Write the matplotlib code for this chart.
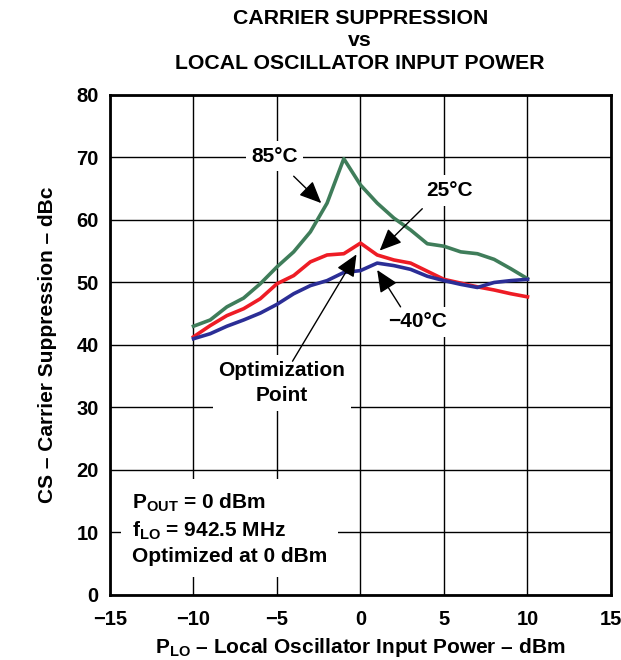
import numpy as np
import matplotlib
matplotlib.use('Agg')
import matplotlib.pyplot as plt

plt.rcParams['font.family'] = ['Liberation Sans', 'DejaVu Sans']
plt.rcParams['font.weight'] = 'bold'
plt.rcParams['mathtext.fontset'] = 'custom'
plt.rcParams['mathtext.rm'] = 'Liberation Sans:bold'
plt.rcParams['mathtext.bf'] = 'Liberation Sans:bold'
plt.rcParams['axes.unicode_minus'] = True

# LO input power (dBm)
p_lo = [-10, -9, -8, -7, -6, -5, -4, -3, -2, -1, 0, 1, 2, 3, 4, 5, 6, 7, 8, 9, 10]

# carrier suppression (dBc) for each temperature
cs_85 = [43.0, 44.0, 46.1, 47.5, 49.8, 52.5, 54.9, 58.1, 62.7, 69.8, 65.6,
         62.7, 60.3, 58.4, 56.2, 55.8, 54.9, 54.6, 53.7, 52.2, 50.6]
cs_25 = [41.3, 43.1, 44.7, 45.8, 47.4, 49.8, 51.1, 53.3, 54.4, 54.6, 56.3,
         54.4, 53.6, 53.1, 51.8, 50.5, 49.9, 49.3, 48.8, 48.2, 47.7]
cs_m40 = [41.0, 41.8, 43.0, 44.0, 45.1, 46.5, 48.2, 49.5, 50.3, 51.6, 51.9,
          53.1, 52.7, 52.1, 51.0, 50.3, 49.7, 49.2, 50.0, 50.3, 50.5]

x_ticks = [-15, -10, -5, 0, 5, 10, 15]
y_ticks = [0, 10, 20, 30, 40, 50, 60, 70, 80]

fig = plt.figure(figsize=(6.21, 6.6), dpi=100)
ax = fig.add_axes([0.1771, 0.0985, 0.8068, 0.7576])

ax.plot(p_lo, cs_85, color='#3f7d5a', lw=2.6, zorder=3)
ax.plot(p_lo, cs_25, color='#ee1c25', lw=2.6, zorder=3)
ax.plot(p_lo, cs_m40, color='#2b2e96', lw=2.6, zorder=3)

ax.set_xlim(-15, 15)
ax.set_ylim(0, 80)
ax.set_xticks(x_ticks)
ax.set_yticks(y_ticks)
ax.grid(True, color='black', lw=1.0, zorder=0)
ax.tick_params(length=0, labelsize=14.5, pad=8)
ax.tick_params(axis='x', pad=11)
for lab in ax.get_xticklabels() + ax.get_yticklabels():
    lab.set_fontweight('bold')
for sp in ax.spines.values():
    sp.set_linewidth(2)

ax.set_xlabel(r'P$_{\mathrm{LO}}$ – Local Oscillator Input Power – dBm',
              fontsize=15, fontweight='bold', labelpad=5)
ax.set_ylabel('CS – Carrier Suppression – dBc', fontsize=15,
              fontweight='bold', labelpad=14)

fig.text(0.58, 0.987, 'CARRIER SUPPRESSION\nvs\nLOCAL OSCILLATOR INPUT POWER',
         ha='center', va='top', fontsize=15.3, fontweight='bold', linespacing=1.25)

box = dict(facecolor='white', edgecolor='none', pad=4)
arrow = dict(arrowstyle='-|>,head_length=1.35,head_width=0.6', color='black',
             lw=1.0, shrinkA=0, shrinkB=0)

ax.text(-5.15, 70.2, '85°C', ha='center', va='center', fontsize=15,
        fontweight='bold', bbox=box, zorder=4)
ax.annotate('', xy=(-2.35, 62.7), xytext=(-4.0, 67.0), arrowprops=arrow, zorder=5)

ax.text(5.35, 64.7, '25°C', ha='center', va='center', fontsize=15,
        fontweight='bold', bbox=box, zorder=4)
ax.annotate('', xy=(1.15, 55.1), xytext=(3.7, 61.8), arrowprops=arrow, zorder=5)

ax.text(3.4, 43.7, '\u221240°C', ha='center', va='center', fontsize=15,
        fontweight='bold', bbox=box, zorder=4)
ax.annotate('', xy=(1.0, 52.0), xytext=(2.4, 46.1), arrowprops=arrow, zorder=5)

ax.text(-4.7, 33.9, 'Optimization\nPoint', ha='center', va='center', fontsize=15,
        fontweight='bold', bbox=box, zorder=4, linespacing=1.4)
ax.annotate('', xy=(-0.24, 54.5), xytext=(-4.07, 37.4), arrowprops=arrow, zorder=5)

ax.text(-13.7, 10.6, 'P$_{\\mathrm{OUT}}$ = 0 dBm\nf$_{\\mathrm{LO}}$ = 942.5 MHz\nOptimized at 0 dBm',
        ha='left', va='center', fontsize=15, fontweight='bold', linespacing=1.3,
        bbox=dict(facecolor='white', edgecolor='none', pad=8), zorder=4)

fig.savefig('out.png', dpi=100)
